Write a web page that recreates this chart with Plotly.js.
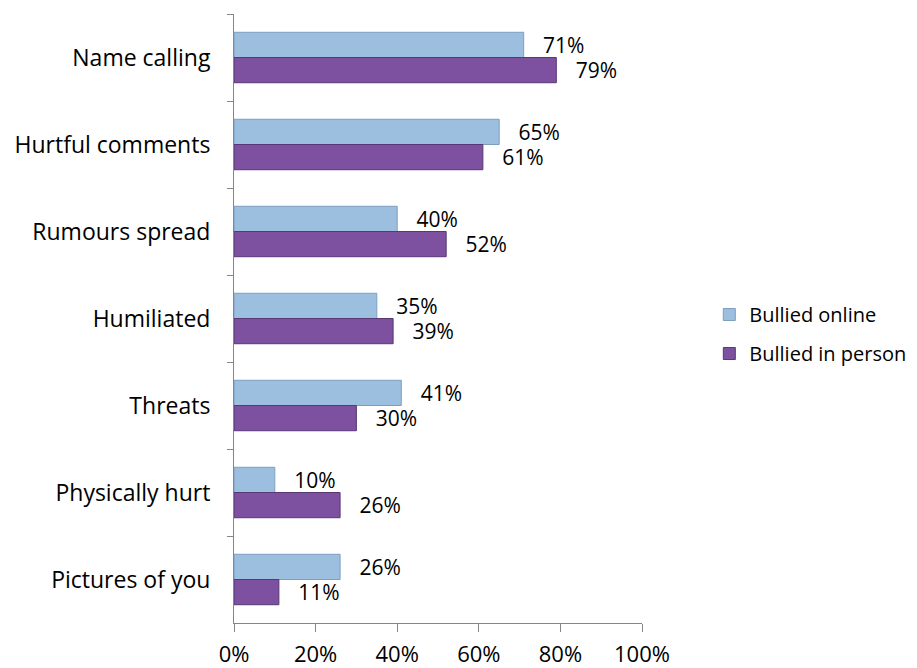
<!DOCTYPE html>
<html>
<head>
<meta charset="utf-8">
<script src="https://cdn.plot.ly/plotly-3.0.1.min.js"></script>
<style>html,body{margin:0;padding:0;background:#fff;}#chart{width:917px;height:668px;}</style>
</head>
<body>
<div id="chart"></div>
<script>
const categories = ["Name calling","Hurtful comments","Rumours spread","Humiliated","Threats","Physically hurt","Pictures of you"];
const onlineValues = [71,65,40,35,41,10,26];
const personValues = [79,61,52,39,30,26,11];
const seriesNames = ["Bullied online","Bullied in person"];
const xTicks = [0,20,40,60,80,100];
const xTickLabels = ["0%","20%","40%","60%","80%","100%"];

const FONT = "Open Sans, Noto Sans, sans-serif";
const pct = v => "\u00a0\u00a0\u00a0" + v + "%";
const traces = [
  {type:"bar", orientation:"h", name:seriesNames[0], y:categories, x:onlineValues,
   marker:{color:"#9cbedf", line:{color:"#7d9ec0", width:1}},
   text:onlineValues.map(pct), textposition:"outside", cliponaxis:false, constraintext:"none",
   textfont:{family:FONT, size:21, color:"#000"}, legendgroup:"a", hoverinfo:"x+y"},
  {type:"bar", orientation:"h", name:seriesNames[1], y:categories, x:personValues,
   marker:{color:"#7d519f", line:{color:"#573874", width:1}},
   text:personValues.map(pct), textposition:"outside", cliponaxis:false, constraintext:"none",
   textfont:{family:FONT, size:21, color:"#000"}, legendgroup:"b", hoverinfo:"x+y"}
];
const layout = {
  width:917, height:668,
  margin:{l:234, r:275, t:14, b:45, autoexpand:false},
  paper_bgcolor:"#fff", plot_bgcolor:"#fff",
  font:{family:FONT, size:22, color:"#000"},
  barmode:"group", bargap:0.42, bargroupgap:0,
  showlegend:true,
  legend:{x:1.165, y:0.4745, xanchor:"left", yanchor:"middle", traceorder:"grouped",
          tracegroupgap:10, font:{family:FONT, size:20, color:"#000"}, itemwidth:30},
  xaxis:{range:[0,100], tickvals:xTicks, ticktext:xTickLabels, showgrid:false, zeroline:false,
         showline:true, linecolor:"#868686", linewidth:1, ticks:"outside", ticklen:8,
         tickcolor:"#868686", ticklabelstandoff:4, fixedrange:true,
         tickfont:{family:FONT, size:22, color:"#000"}},
  yaxis:{autorange:"reversed", type:"category", showgrid:false, zeroline:false,
         showline:true, linecolor:"#868686", linewidth:1, ticks:"outside", ticklen:6,
         tickcolor:"#868686", tickson:"boundaries", ticklabelstandoff:18, fixedrange:true,
         tickfont:{family:FONT, size:23, color:"#000"}}
};
Plotly.newPlot("chart", traces, layout, {displayModeBar:false, staticPlot:true});
</script>
</body>
</html>
